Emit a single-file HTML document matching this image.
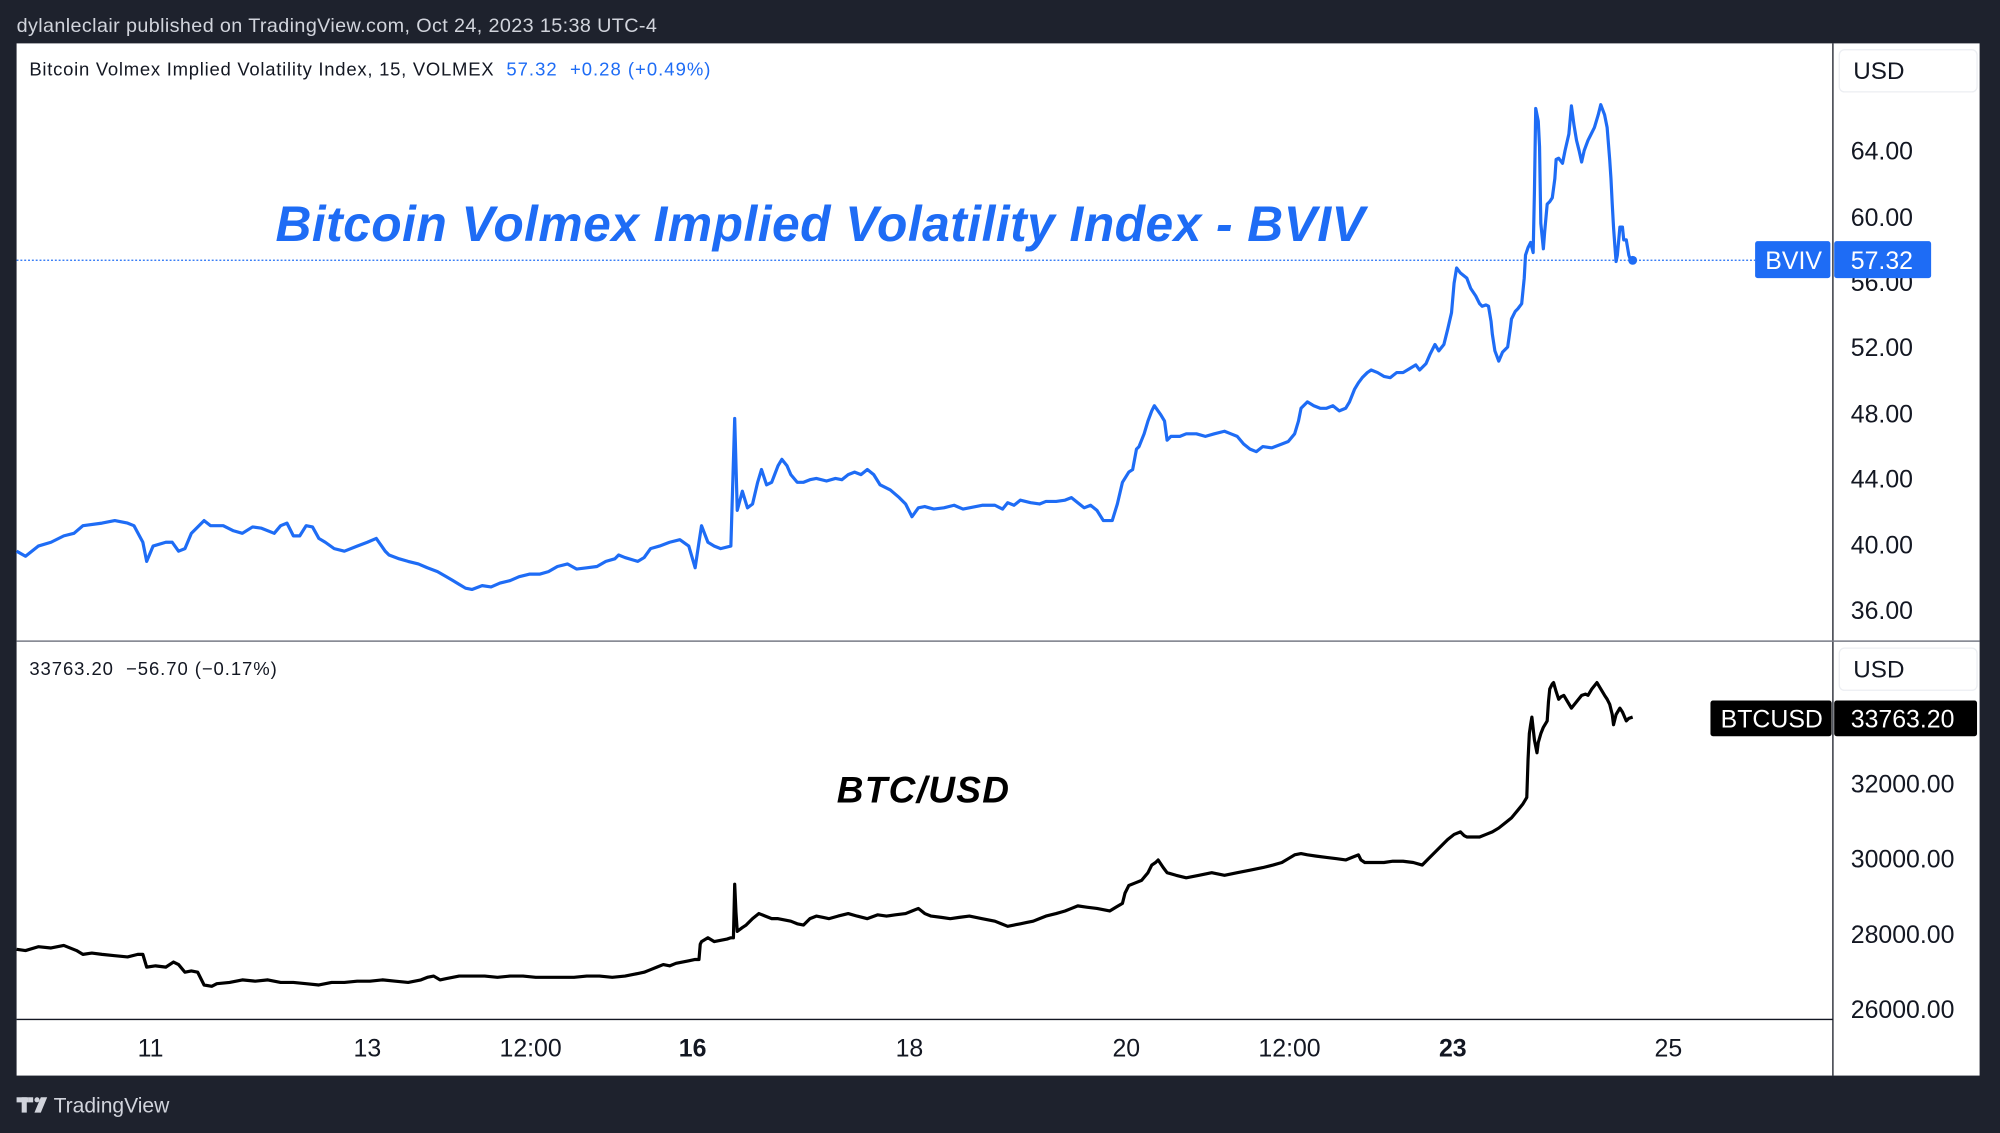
<!DOCTYPE html>
<html><head><meta charset="utf-8"><style>
html,body{margin:0;padding:0;background:#1e222d;overflow:hidden}
svg{display:block}
text{font-family:"Liberation Sans",sans-serif;white-space:pre}
</style></head><body>
<svg width="2000" height="1133" viewBox="0 0 1568 888" preserveAspectRatio="none" xmlns="http://www.w3.org/2000/svg">
<rect x="0" y="0" width="1568" height="888" fill="#1e222d"/>
<text x="13" y="25" font-size="15.5" fill="#d1d4dc" textLength="502">dylanleclair published on TradingView.com, Oct 24, 2023 15:38 UTC-4</text>
<rect x="13" y="34" width="1539" height="809" fill="#ffffff"/>
<line x1="1437" y1="34" x2="1437" y2="843" stroke="#131722" stroke-width="1"/>
<line x1="13" y1="502.5" x2="1552" y2="502.5" stroke="#787b86" stroke-width="1.2"/>
<line x1="13" y1="799" x2="1437" y2="799" stroke="#131722" stroke-width="1"/>
<!-- top legend -->
<text x="23" y="59" font-size="14.5" fill="#131722" textLength="364">Bitcoin Volmex Implied Volatility Index, 15, VOLMEX</text>
<text x="397" y="59" font-size="14.5" fill="#1e6cf5" textLength="160">57.32  +0.28 (+0.49%)</text>
<text x="216" y="189" font-size="39" font-weight="bold" font-style="italic" fill="#1e6cf5" textLength="854">Bitcoin Volmex Implied Volatility Index - BVIV</text>
<!-- USD boxes -->
<rect x="1442" y="39" width="108" height="33" rx="4" fill="#fff" stroke="#eceef2"/>
<text x="1453" y="62" font-size="19" fill="#131722">USD</text>
<rect x="1442" y="508" width="108" height="33" rx="4" fill="#fff" stroke="#eceef2"/>
<text x="1453" y="531" font-size="19" fill="#131722">USD</text>
<g font-size="19.5" fill="#131722">
<text x="1451" y="125">64.00</text>
<text x="1451" y="177">60.00</text>
<text x="1451" y="228">56.00</text>
<text x="1451" y="279">52.00</text>
<text x="1451" y="331">48.00</text>
<text x="1451" y="382">44.00</text>
<text x="1451" y="434">40.00</text>
<text x="1451" y="485">36.00</text>
<text x="1451" y="621">32000.00</text>
<text x="1451" y="680">30000.00</text>
<text x="1451" y="739">28000.00</text>
<text x="1451" y="798">26000.00</text>
</g>
<line x1="13" y1="204" x2="1376" y2="204" stroke="#1e6cf5" stroke-width="1" stroke-dasharray="1.5,1.5"/>
<polyline fill="none" stroke="#1e6cf5" stroke-width="2.5" stroke-linejoin="round" points="13,432 20,436 30,428 40,425 50,420 58,418 65,412 80,410 90,408 100,410 105,412 112,425 115,440 120,428 130,425 135,425 140,432 145,430 150,418 160,408 165,412 175,412 183,416 190,418 198,413 205,414 215,418 220,412 225,410 230,420 235,420 240,412 245,413 250,422 255,425 262,430 270,432 280,428 288,425 295,422 302,432 305,435 313,438 320,440 328,442 335,445 343,448 350,452 355,455 360,458 365,461 370,462 378,459 385,460 392,457 400,455 407,452 415,450 423,450 430,448 437,444 445,442 452,446 460,445 468,444 475,440 482,438 485,435 490,437 500,440 505,437 510,430 517,428 525,425 533,423 540,428 545,445 548,425 550,412 555,425 560,428 565,430 573,428 576,328 578,400 582,385 586,398 590,395 594,378 597,368 601,380 605,378 610,365 613,360 617,365 620,372 625,378 630,378 635,376 640,375 648,377 655,375 660,376 665,372 670,370 675,372 680,368 685,372 690,380 698,384 705,390 710,395 715,405 720,398 725,397 732,399 740,398 748,396 755,399 760,398 770,396 780,396 786,399 790,394 795,396 800,392 808,394 815,395 820,393 828,393 835,392 840,390 845,394 850,398 855,396 860,400 865,408 872,408 876,395 880,378 885,370 888,368 891,352 893,350 897,340 900,330 903,322 905,318 910,325 913,330 915,345 918,342 920,342 925,342 930,340 938,340 945,342 952,340 960,338 965,340 970,342 975,348 980,352 985,354 990,350 997,351 1005,348 1010,346 1015,340 1018,330 1020,320 1025,315 1030,318 1035,320 1040,320 1045,318 1050,322 1055,320 1058,315 1062,305 1065,300 1068,296 1072,292 1075,290 1080,292 1085,295 1090,296 1095,292 1100,292 1105,289 1110,286 1113,290 1118,285 1121,278 1125,270 1128,275 1132,270 1135,258 1138,245 1140,222 1142,210 1145,214 1150,218 1153,226 1157,232 1160,238 1162,240 1165,239 1167,240 1169,252 1170,262 1172,275 1175,283 1178,276 1182,272 1184,258 1185,250 1188,244 1190,242 1193,238 1195,218 1196,200 1198,194 1200,190 1202,198 1203,150 1204,85 1206,95 1207,115 1208,175 1210,195 1211,182 1213,160 1215,158 1217,155 1219,140 1220,125 1222,124 1225,128 1227,118 1230,105 1232,83 1234,98 1236,110 1238,118 1240,127 1242,118 1245,110 1247,106 1250,100 1253,90 1255,82 1258,90 1260,100 1262,125 1263,140 1264,160 1265,178 1266,192 1267,205 1268,200 1270,178 1272,178 1273,188 1275,188 1277,200 1278,203 1280,204"/>
<circle cx="1280" cy="204" r="3.5" fill="#1e6cf5"/>
<rect x="1376" y="189" width="59" height="29" rx="2" fill="#1e6cf5"/>
<text x="1384" y="211" font-size="19.5" fill="#fff">BVIV</text>
<rect x="1438" y="189" width="76" height="29" rx="2" fill="#1e6cf5"/>
<text x="1451" y="211" font-size="19.5" fill="#fff">57.32</text>
<text x="23" y="529" font-size="14.5" fill="#131722" textLength="194">33763.20  −56.70 (−0.17%)</text>
<text x="656" y="629" font-size="29" font-weight="bold" font-style="italic" fill="#000" textLength="135">BTC/USD</text>
<polyline fill="none" stroke="#000" stroke-width="2.5" stroke-linejoin="round" points="13,744 20,745 30,742 40,743 50,741 60,745 65,748 72,747 80,748 90,749 100,750 108,748 112,748 115,758 122,757 130,758 136,754 140,756 145,762 150,761 155,762 160,772 166,773 170,771 180,770 190,768 200,769 210,768 220,770 230,770 240,771 250,772 255,771 260,770 270,770 280,769 290,769 300,768 310,769 320,770 325,769 330,768 335,766 340,765 345,768 350,767 355,766 360,765 370,765 380,765 390,766 400,765 410,765 420,766 430,766 440,766 450,766 460,765 470,765 480,766 490,765 500,763 505,762 510,760 515,758 520,756 525,757 530,755 535,754 540,753 545,752 548,752 549,740 550,738 555,735 560,738 565,737 570,736 573,735 575,735 576,693 577,715 578,730 582,727 585,725 590,720 595,716 600,718 605,720 610,720 615,721 620,722 625,724 630,725 635,720 640,718 645,719 650,720 657,718 665,716 672,718 680,720 688,717 695,718 702,717 710,716 715,714 720,712 725,716 730,718 738,719 745,720 752,719 760,718 770,720 780,722 785,724 790,726 795,725 800,724 805,723 810,722 815,720 820,718 828,716 835,714 840,712 845,710 852,711 860,712 865,713 870,714 875,711 880,708 882,700 885,694 890,692 895,690 900,684 903,678 906,676 908,674 912,680 915,684 922,686 930,688 940,686 950,684 960,686 970,684 980,682 990,680 998,678 1005,676 1010,673 1015,670 1020,669 1025,670 1032,671 1040,672 1048,673 1055,674 1060,672 1065,670 1067,674 1070,676 1078,676 1085,676 1092,675 1100,675 1108,676 1115,678 1120,673 1125,668 1130,663 1135,658 1140,654 1145,652 1148,655 1150,656 1155,656 1160,656 1165,654 1170,652 1175,649 1180,645 1185,641 1190,635 1194,630 1197,625 1198,595 1199,575 1200,568 1201,562 1203,580 1205,590 1206,582 1208,575 1210,570 1213,565 1214,550 1215,540 1217,536 1218,535 1220,542 1222,548 1224,546 1226,545 1229,550 1232,555 1236,550 1240,545 1243,544 1245,545 1248,540 1252,535 1255,540 1258,545 1260,548 1262,552 1264,560 1265,568 1267,560 1270,555 1272,558 1275,565 1277,563 1280,562"/>
<rect x="1341" y="549" width="95" height="28" rx="2" fill="#000"/>
<text x="1349" y="570" font-size="19.5" fill="#fff">BTCUSD</text>
<rect x="1438" y="549" width="112" height="28" rx="2" fill="#000"/>
<text x="1451" y="570" font-size="19.5" fill="#fff">33763.20</text>
<g font-size="19.5" fill="#131722" text-anchor="middle">
<text x="118" y="828">11</text>
<text x="288" y="828">13</text>
<text x="416" y="828">12:00</text>
<text x="543" y="828" font-weight="bold">16</text>
<text x="713" y="828">18</text>
<text x="883" y="828">20</text>
<text x="1011" y="828">12:00</text>
<text x="1139" y="828" font-weight="bold">23</text>
<text x="1308" y="828">25</text>
</g>
<g fill="#d1d4dc">
<rect x="13" y="860" width="9" height="4"/>
<rect x="17" y="860" width="4" height="12"/>
<rect x="22" y="860" width="4" height="4"/>
<circle cx="29" cy="862" r="2"/>
<polygon points="32,860 37,860 32,872 27,872"/>
</g>
<text x="42" y="872" font-size="16.5" fill="#d1d4dc">TradingView</text>
</svg>
</body></html>
